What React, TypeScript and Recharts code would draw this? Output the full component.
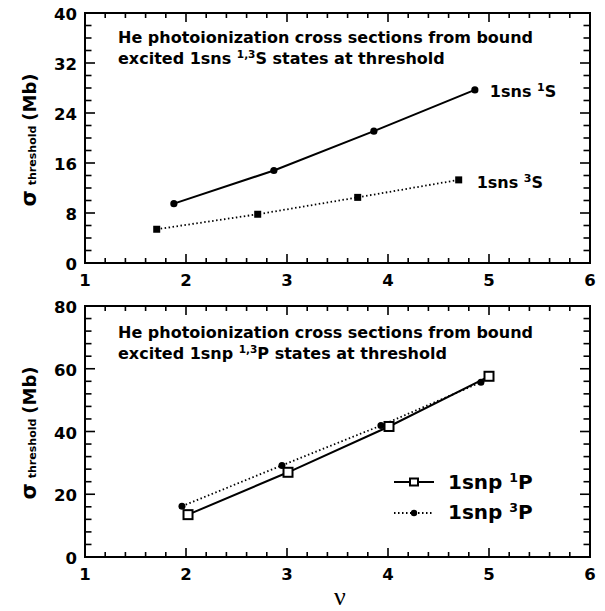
import React from 'react';
import { LineChart, Line, XAxis, YAxis, LabelList, Customized } from 'recharts';

// ---- data ----
const sns1S_x = [1.88, 2.87, 3.86, 4.86];
const sns1S_y = [9.5, 14.8, 21.1, 27.7];
const sns3S_x = [1.71, 2.71, 3.70, 4.70];
const sns3S_y = [5.4, 7.8, 10.5, 13.3];

const snp1P_x = [2.02, 3.01, 4.01, 5.0];
const snp1P_y = [13.5, 27.0, 41.6, 57.6];
const snp3P_x = [1.96, 2.95, 3.93, 4.92];
const snp3P_y = [16.2, 29.2, 41.9, 55.7];

const X_TICKS = [1, 1.2, 1.4, 1.6, 1.8, 2, 2.2, 2.4, 2.6, 2.8, 3, 3.2, 3.4, 3.6, 3.8, 4, 4.2, 4.4, 4.6, 4.8, 5, 5.2, 5.4, 5.6, 5.8, 6];
const X_MAJOR = [1, 2, 3, 4, 5, 6];
const Y_TOP_TICKS = [0, 2, 4, 6, 8, 10, 12, 14, 16, 18, 20, 22, 24, 26, 28, 30, 32, 34, 36, 38, 40];
const Y_TOP_MAJOR = [0, 8, 16, 24, 32, 40];
const Y_BOT_TICKS = [0, 4, 8, 12, 16, 20, 24, 28, 32, 36, 40, 44, 48, 52, 56, 60, 64, 68, 72, 76, 80];
const Y_BOT_MAJOR = [0, 20, 40, 60, 80];

const zip = (xs: number[], ys: number[]) => xs.map((x, i) => ({ x, y: ys[i] }));
const d1S = zip(sns1S_x, sns1S_y);
const d3S = zip(sns3S_x, sns3S_y);
const d1P = zip(snp1P_x, snp1P_y);
const d3P = zip(snp3P_x, snp3P_y);

const FONT = '"DejaVu Sans", "Liberation Sans", sans-serif';
const SERIF = '"Liberation Serif", "DejaVu Serif", serif';
const AX = { stroke: '#000', strokeWidth: 2, strokeLinecap: 'square' as const };

// ---- ticks ----
const makeXTick = (side: 'bottom' | 'top', labels: boolean) => (p: any) => {
  const { x, y, payload } = p;
  const v = payload.value;
  const major = X_MAJOR.includes(v);
  const len = major ? 9 : 5;
  const y2 = side === 'bottom' ? y - len : y + len;
  return (
    <g>
      <line x1={x} x2={x} y1={y} y2={y2} stroke="#000" strokeWidth={1.6} />
      {labels && major && (
        <text x={x} y={y + 23} textAnchor="middle" fontFamily={FONT} fontWeight="bold" fontSize={16.5} fill="#000">
          {v}
        </text>
      )}
    </g>
  );
};

const makeYTick = (side: 'left' | 'right', majors: number[], labels: boolean) => (p: any) => {
  const { x, y, payload } = p;
  const v = payload.value;
  const major = majors.includes(v);
  const len = major ? 10 : 6.5;
  const x2 = side === 'left' ? x + len : x - len;
  return (
    <g>
      <line x1={x} x2={x2} y1={y} y2={y} stroke="#000" strokeWidth={1.6} />
      {labels && major && (
        <text x={x - 8} y={y + 7} textAnchor="end" fontFamily={FONT} fontWeight="bold" fontSize={16.5} fill="#000">
          {v}
        </text>
      )}
    </g>
  );
};

// ---- markers ----
const circleDot = (r: number) => (p: any) => (
  <circle key={`c${p.index}`} cx={p.cx} cy={p.cy} r={r} fill="#000" stroke="none" />
);
const filledSquare = (s: number) => (p: any) => (
  <rect key={`s${p.index}`} x={p.cx - s / 2} y={p.cy - s / 2} width={s} height={s} fill="#000" stroke="none" />
);
const openSquare = (s: number) => (p: any) => (
  <rect key={`o${p.index}`} x={p.cx - s / 2} y={p.cy - s / 2} width={s} height={s} fill="#fff" stroke="#000" strokeWidth={2} />
);

const seriesLabel = (last: number, dx: number, dy: number, sup: string) => (p: any) => {
  if (p.value !== last) return null;
  return (
    <text x={p.x + dx} y={p.y + dy} fontFamily={FONT} fontWeight="bold" fontSize={16} fill="#000">
      1sns{' '}
      <tspan fontSize={11} dy={-6}>{sup}</tspan>
      <tspan dy={6}>S</tspan>
    </text>
  );
};

const YLabel = ({ cy }: { cy: number }) => (
  <text x={36} y={cy} transform={`rotate(-90, 36, ${cy})`} textAnchor="middle" fill="#000">
    <tspan fontFamily={FONT} fontWeight="bold" fontSize={21}>σ</tspan>
    <tspan fontFamily={FONT} fontWeight="bold" fontSize={11} dx={5}>threshold</tspan>
    <tspan fontFamily={FONT} fontWeight="bold" fontSize={18} dx={5}>(Mb)</tspan>
  </text>
);

const Title = ({ y, label, sup }: { y: number; label: string; sup: string }) => (
  <g fontFamily={FONT} fontWeight="bold" fontSize={16} fill="#000">
    <text x={118} y={y}>He photoionization cross sections from bound</text>
    <text x={118} y={y + 21}>
      excited {label}{' '}
      <tspan fontSize={10.5} dy={-6}>1,3</tspan>
      <tspan dy={6}>{sup} states at threshold</tspan>
    </text>
  </g>
);

const TopDecor = () => (
  <g>
    <Title y={43} label="1sns" sup="S" />
    <YLabel cy={140} />
  </g>
);

const BottomDecor = () => (
  <g>
    <Title y={48} label="1snp" sup="P" />
    <YLabel cy={143} />
    <text x={340} y={315} textAnchor="middle" fontFamily={SERIF} fontSize={26} fill="#000">ν</text>
    {/* legend */}
    <line x1={394} x2={434} y1={192} y2={192} stroke="#000" strokeWidth={2} />
    <rect x={410} y={188.5} width={8} height={7} fill="#fff" stroke="#000" strokeWidth={2} />
    <text x={448} y={199} fontFamily={FONT} fontWeight="bold" fontSize={20} fill="#000">
      1snp{' '}
      <tspan fontSize={12.5} dy={-7}>1</tspan>
      <tspan dy={7}>P</tspan>
    </text>
    <line x1={394} x2={434} y1={223} y2={223} stroke="#000" strokeWidth={1.8} strokeDasharray="1.5 2.5" />
    <circle cx={414} cy={223} r={3.2} fill="#000" />
    <text x={448} y={229} fontFamily={FONT} fontWeight="bold" fontSize={20} fill="#000">
      1snp{' '}
      <tspan fontSize={12.5} dy={-7}>3</tspan>
      <tspan dy={7}>P</tspan>
    </text>
  </g>
);

const axesFor = (yDomain: number[], yTicks: number[], yMajor: number[]) => [
  <XAxis key="xb" xAxisId={0} type="number" dataKey="x" domain={[1, 6]} ticks={X_TICKS} interval={0} height={20}
    tickSize={0} tickMargin={0} axisLine={AX} tickLine={false} tick={makeXTick('bottom', true)} allowDataOverflow />,
  <XAxis key="xt" xAxisId="top" orientation="top" type="number" dataKey="x" domain={[1, 6]} ticks={X_TICKS} interval={0} height={2}
    tickSize={0} tickMargin={0} axisLine={AX} tickLine={false} tick={makeXTick('top', false)} allowDataOverflow />,
  <YAxis key="yl" yAxisId={0} type="number" domain={yDomain} ticks={yTicks} interval={0} width={70}
    tickSize={0} tickMargin={0} axisLine={AX} tickLine={false} tick={makeYTick('left', yMajor, true)} allowDataOverflow />,
  <YAxis key="yr" yAxisId="r" orientation="right" type="number" domain={yDomain} ticks={yTicks} interval={0} width={2}
    tickSize={0} tickMargin={0} axisLine={AX} tickLine={false} tick={makeYTick('right', yMajor, false)} allowDataOverflow />,
];

export default function App() {
  return (
    <div style={{ position: 'absolute', left: 0, top: 0, width: 605, height: 611, background: '#fff' }}>
      <div style={{ position: 'absolute', left: 0, top: 0 }}>
        <LineChart width={605} height={290} margin={{ top: 11, right: 13, bottom: 7, left: 15 }}>
          {axesFor([0, 40], Y_TOP_TICKS, Y_TOP_MAJOR)}
          <Line data={d1S} dataKey="y" stroke="#000" strokeWidth={2} dot={circleDot(3.6)} isAnimationActive={false}>
            <LabelList dataKey="y" content={seriesLabel(27.7, 15, 7, '1')} />
          </Line>
          <Line data={d3S} dataKey="y" stroke="#000" strokeWidth={1.8} strokeDasharray="1.5 2.5" dot={filledSquare(7)} isAnimationActive={false}>
            <LabelList dataKey="y" content={seriesLabel(13.3, 18, 8, '3')} />
          </Line>
          <Customized component={TopDecor} />
        </LineChart>
      </div>
      <div style={{ position: 'absolute', left: 0, top: 290 }}>
        <LineChart width={605} height={321} margin={{ top: 14, right: 13, bottom: 34, left: 15 }}>
          {axesFor([0, 80], Y_BOT_TICKS, Y_BOT_MAJOR)}
          <Line data={d3P} dataKey="y" stroke="#000" strokeWidth={1.8} strokeDasharray="1.5 2.5" dot={circleDot(3.5)} isAnimationActive={false} />
          <Line data={d1P} dataKey="y" stroke="#000" strokeWidth={2} dot={openSquare(9)} isAnimationActive={false} />
          <Customized component={BottomDecor} />
        </LineChart>
      </div>
    </div>
  );
}
